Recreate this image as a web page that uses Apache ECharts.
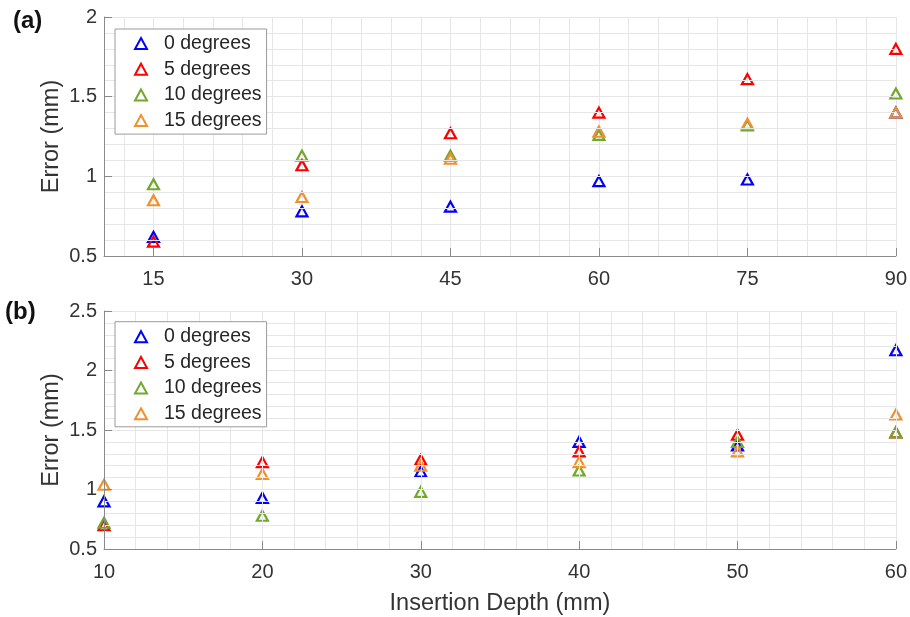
<!DOCTYPE html>
<html>
<head>
<meta charset="utf-8">
<script src="https://cdn.jsdelivr.net/npm/echarts@6/dist/echarts.min.js"></script>
<style>
html,body{margin:0;padding:0;background:#fff;}
#c{width:910px;height:617px;}
</style>
</head>
<body>
<div id="c"></div>
<script>
// ---- data ----
const seriesNames = ['0 degrees', '5 degrees', '10 degrees', '15 degrees'];
const depthA = [15, 30, 45, 60, 75, 90];
const errA0 = [0.62, 0.78, 0.81, 0.97, 0.98, 1.40];
const errA5 = [0.59, 1.07, 1.27, 1.40, 1.61, 1.80];
const errA10 = [0.95, 1.13, 1.13, 1.26, 1.32, 1.52];
const errA15 = [0.85, 0.87, 1.11, 1.28, 1.33, 1.40];

const depthB = [10, 20, 30, 40, 50, 60];
const errB0 = [0.90, 0.93, 1.15, 1.40, 1.37, 2.17];
const errB5 = [0.70, 1.23, 1.25, 1.32, 1.46, 1.48];
const errB10 = [0.72, 0.78, 0.98, 1.16, 1.40, 1.48];
const errB15 = [1.04, 1.13, 1.20, 1.23, 1.32, 1.63];

const ticksXA = [15, 30, 45, 60, 75, 90];
const colors = ['#0000ff', '#ff0000', '#72a82e', '#f0912e'];

// grid line positions for panel (a): every 3 mm
const gridXA = [];
for (let v = 12; v <= 90; v += 3) gridXA.push(v);

const FONT = '"Liberation Sans", Arial, Helvetica, sans-serif';
const axisColor = '#8a8a8a';
const gridColor = '#e6e6e6';
const textColor = '#333333';

function pairs(xs, ys) { return xs.map((x, i) => [x, ys[i]]); }

function mkSeries(name, idx, xs, ys, xi, yi) {
  return {
    type: 'scatter', name: name, xAxisIndex: xi, yAxisIndex: yi,
    symbol: 'triangle', symbolSize: [11, 10],
    itemStyle: { color: 'rgba(0,0,0,0)', borderColor: colors[idx], borderWidth: 2.2, opacity: 1 },
    emphasis: { disabled: true },
    data: pairs(xs, ys), z: 2
  };
}

const yAxisCommon = {
  type: 'value', interval: 0.5,
  name: 'Error (mm)', nameLocation: 'middle', nameGap: 40, nameMoveOverlap: false,
  nameTextStyle: { fontSize: 23.5, color: textColor, fontFamily: FONT },
  axisLine: { show: true, lineStyle: { color: axisColor, width: 1 } },
  axisTick: { show: true, inside: true, length: 8, lineStyle: { color: axisColor } },
  axisLabel: { fontSize: 20, color: textColor, fontFamily: FONT, margin: 7, formatter: v => String(+v.toFixed(1)) },
  splitLine: { show: true, lineStyle: { color: gridColor, width: 1 } },
  minorTick: { show: false, splitNumber: 5 },
  minorSplitLine: { show: true, lineStyle: { color: gridColor, width: 1 } },
  z: 3
};

const legendCommon = {
  orient: 'vertical', left: 115,
  itemWidth: 12, itemHeight: 11, itemGap: 5.7,
  padding: [4.5, 5, 3.5, 19],
  borderColor: '#9a9a9a', borderWidth: 1, backgroundColor: '#ffffff',
  textStyle: { fontSize: 19.5, color: '#262626', fontFamily: FONT, lineHeight: 20, padding: [0, 0, 0, 12] },
  data: seriesNames, selectedMode: false
};

const option = {
  animation: false,
  backgroundColor: '#ffffff',
  title: [
    { text: '(a)', left: 13, top: 9, padding: 0, textStyle: { fontSize: 24, fontWeight: 'bold', color: '#111', fontFamily: FONT } },
    { text: '(b)', left: 5, top: 300, padding: 0, textStyle: { fontSize: 24, fontWeight: 'bold', color: '#111', fontFamily: FONT } }
  ],
  legend: [
    Object.assign({}, legendCommon, { top: 29 }),
    Object.assign({}, legendCommon, { top: 321.7, padding: [5, 5, 3, 19] })
  ],
  grid: [
    { left: 104, top: 17, width: 792, height: 239 },
    { left: 104, top: 311, width: 792, height: 239 }
  ],
  xAxis: [
    {
      gridIndex: 0, type: 'value', min: 10, max: 90, position: 'bottom',
      axisLine: { show: true, lineStyle: { color: axisColor, width: 1 } },
      axisTick: { show: true, inside: true, length: 8, customValues: ticksXA, lineStyle: { color: axisColor } },
      axisLabel: { customValues: ticksXA, fontSize: 20, color: textColor, fontFamily: FONT, margin: 13 },
      splitLine: { show: false }, z: 3
    },
    {
      gridIndex: 0, type: 'value', min: 10, max: 90, position: 'bottom',
      axisLine: { show: false },
      axisTick: { show: false, customValues: gridXA },
      axisLabel: { show: false, customValues: gridXA },
      splitLine: { show: true, lineStyle: { color: gridColor, width: 1 } }, z: 1
    },
    {
      gridIndex: 1, type: 'value', min: 10, max: 60, interval: 10, position: 'bottom',
      name: 'Insertion Depth (mm)', nameLocation: 'middle', nameGap: 43,
      nameTextStyle: { fontSize: 23.5, color: textColor, fontFamily: FONT },
      axisLine: { show: true, lineStyle: { color: axisColor, width: 1 } },
      axisTick: { show: true, inside: true, length: 8, lineStyle: { color: axisColor } },
      axisLabel: { fontSize: 20, color: textColor, fontFamily: FONT, margin: 13 },
      splitLine: { show: true, lineStyle: { color: gridColor, width: 1 } },
      minorTick: { show: false, splitNumber: 5 },
      minorSplitLine: { show: true, lineStyle: { color: gridColor, width: 1 } },
      z: 3
    }
  ],
  yAxis: [
    Object.assign({}, yAxisCommon, { gridIndex: 0, min: 0.5, max: 2 }),
    Object.assign({}, yAxisCommon, { gridIndex: 1, min: 0.5, max: 2.5 })
  ],
  series: [
    mkSeries(seriesNames[0], 0, depthA, errA0, 0, 0),
    mkSeries(seriesNames[1], 1, depthA, errA5, 0, 0),
    mkSeries(seriesNames[2], 2, depthA, errA10, 0, 0),
    mkSeries(seriesNames[3], 3, depthA, errA15, 0, 0),
    mkSeries(seriesNames[0], 0, depthB, errB0, 2, 1),
    mkSeries(seriesNames[1], 1, depthB, errB5, 2, 1),
    mkSeries(seriesNames[2], 2, depthB, errB10, 2, 1),
    mkSeries(seriesNames[3], 3, depthB, errB15, 2, 1)
  ]
};

const chart = echarts.init(document.getElementById('c'), null, { renderer: 'canvas' });
chart.setOption(option);
</script>
</body>
</html>
